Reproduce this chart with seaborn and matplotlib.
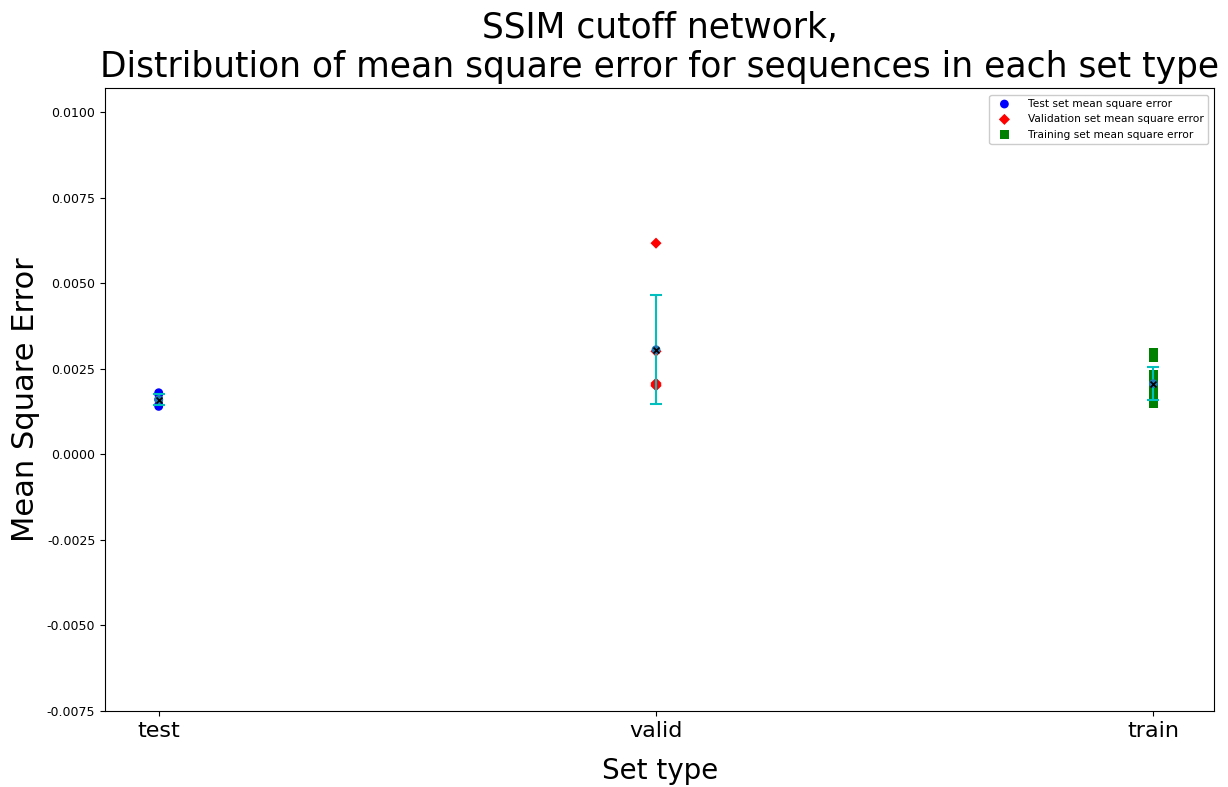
import numpy as np
import pandas as pd
import matplotlib
matplotlib.use("Agg")
import matplotlib.pyplot as plt
import seaborn as sns

categories = ["test", "valid", "train"]
test_mse = [0.00180, 0.00175, 0.00160, 0.00145, 0.00140]
valid_mse = [0.00617, 0.00301, 0.00208, 0.00203, 0.00200]
train_mse = [0.00297, 0.00282, 0.00235, 0.00225, 0.00215, 0.00200,
             0.00185, 0.00175, 0.00160, 0.00150, 0.00147]
labels = ["Test set mean square error", "Validation set mean square error",
          "Training set mean square error"]
yticks = [-0.0075, -0.0050, -0.0025, 0.0000, 0.0025, 0.0050, 0.0075, 0.0100]

series = [test_mse, valid_mse, train_mse]
colors = ["blue", "red", "green"]
markers = ["o", "D", "s"]

plt.rcParams['font.family'] = ['DejaVu Sans']
fig = plt.figure(figsize=(12.28, 7.87), dpi=100)
ax = fig.add_axes([0.0855, 0.0966, 0.9035, 0.7914])

for i, (vals, c, m, lab) in enumerate(zip(series, colors, markers, labels)):
    df = pd.DataFrame({"x": [i] * len(vals), "y": vals})
    sns.scatterplot(data=df, x="x", y="y", color=c, marker=m, s=40 if m != "D" else 32,
                    edgecolor="none", label=lab, ax=ax, zorder=2)

for i, vals in enumerate(series):
    mu = np.mean(vals)
    sd = np.std(vals)
    ax.errorbar(i, mu, yerr=sd, color="c", capsize=4, elinewidth=1.5,
                capthick=1.5, zorder=3)
    ax.scatter([i], [mu], color="#1f77b4", marker="o", s=40, zorder=4, edgecolor="none")
    ax.scatter([i], [mu], color="black", marker="x", s=18, linewidths=1.2, zorder=5)

ax.set_xlim(-0.108, 2.123)
ax.set_ylim(-0.0075, 0.0107)
ax.set_xticks(range(len(categories)))
ax.set_xticklabels(categories, fontsize=16)
ax.set_yticks(yticks)
ax.set_yticklabels([f"{v:.4f}" for v in yticks], fontsize=9)
ax.set_xlabel("Set type", fontsize=20, labelpad=12)
ax.set_ylabel("Mean Square Error", fontsize=22, labelpad=5)
ax.set_title("SSIM cutoff network,\nDistribution of mean square error for sequences in each set type",
             fontsize=24.85, pad=8)
ax.legend(loc="upper right", fontsize=7.7, frameon=True, framealpha=1,
          borderaxespad=0.6, handletextpad=1.2)

fig.savefig("out.png", dpi=100)
